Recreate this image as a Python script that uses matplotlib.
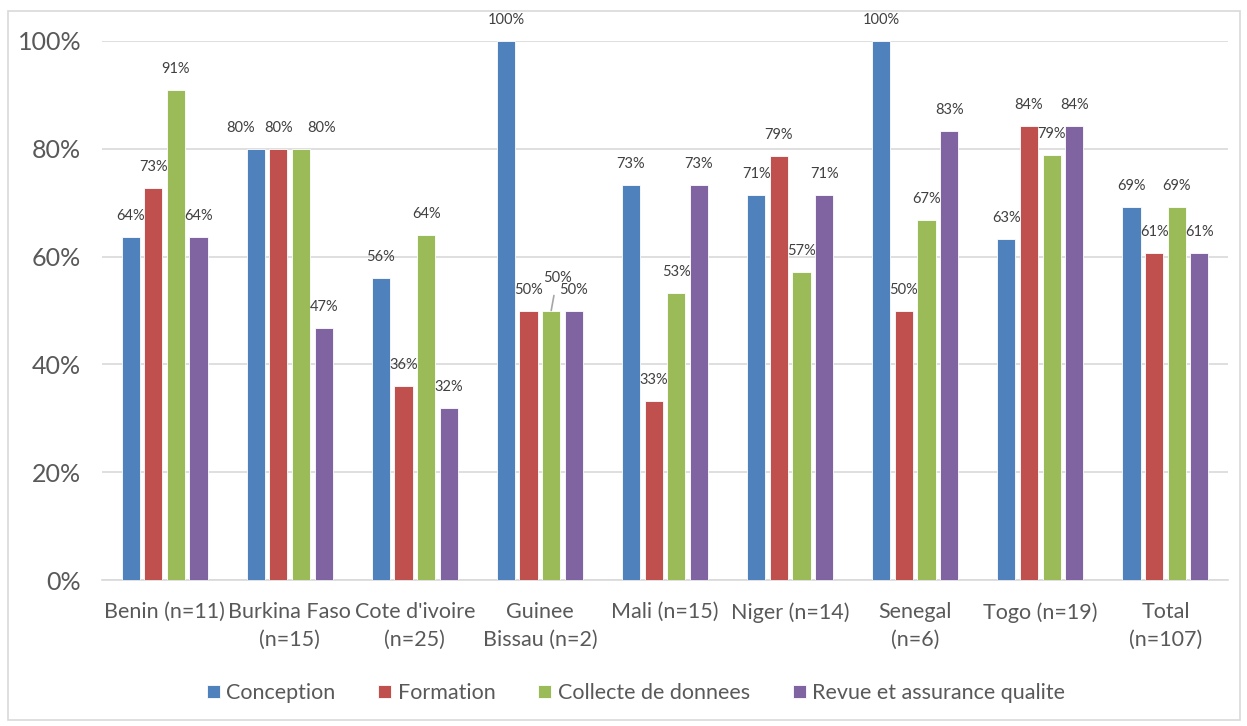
import matplotlib
matplotlib.use("Agg")
import matplotlib.pyplot as plt
import numpy as np
from matplotlib.patches import Rectangle

plt.rcParams['font.family'] = ['Lato', 'DejaVu Sans']

categories = ["Benin (n=11)", "Burkina Faso\n(n=15)", "Cote d'ivoire\n(n=25)", "Guinee\nBissau (n=2)",
              "Mali (n=15)", "Niger (n=14)", "Senegal\n(n=6)", "Togo (n=19)", "Total\n(n=107)"]
series_names = ["Conception", "Formation", "Collecte de donnees", "Revue et assurance qualite"]
conception = [63.6, 80.0, 56.0, 100.0, 73.3, 71.4, 100.0, 63.2, 69.2]
formation = [72.7, 80.0, 36.0, 50.0, 33.3, 78.6, 50.0, 84.2, 60.7]
collecte = [90.9, 80.0, 64.0, 50.0, 53.3, 57.1, 66.7, 78.9, 69.2]
revue = [63.6, 46.7, 32.0, 50.0, 73.3, 71.4, 83.3, 84.2, 60.7]
colors = ["#4F81BD", "#C0504D", "#9BBB59", "#8064A2"]

data = [conception, formation, collecte, revue]

# label nudges in pixels (dx, dy up) for a few crowded labels
nudges = {(1, 0): (-15, 0), (1, 2): (21, 0), (3, 2): (6, 12)}

fig = plt.figure(figsize=(12.47, 7.26), dpi=100)
fig.patches.append(Rectangle((8/1247, 1 - 720/726), (1240-8)/1247, (720-11)/726,
                             transform=fig.transFigure, fill=False, edgecolor="#D9D9D9", lw=1.2))
ax = fig.add_axes([102/1247, 1 - 580/726, (1228-102)/1247, (580-41)/726])

x = np.arange(len(categories))
w = 0.145
step = 0.181
px = 72 / 100.0
for i, (vals, col, name) in enumerate(zip(data, colors, series_names)):
    pos = x + (i - 1.5) * step
    ax.bar(pos, vals, width=w, color=col, edgecolor="white", linewidth=0.6, label=name, zorder=3)
    for j, (p, v) in enumerate(zip(pos, vals)):
        dx, dy = nudges.get((j, i), (0, 0))
        kw = {}
        if dy > 0:
            kw["arrowprops"] = dict(arrowstyle="-", color="#A6A6A6", lw=1.2, shrinkA=6, shrinkB=0)
        ax.annotate(f"{round(v):.0f}%", (p, v), xytext=(dx * px, (21 + dy) * px), textcoords="offset points",
                    ha="center", va="center", fontsize=10.5, color="#404040", **kw)

ax.set_xlim(-0.5, len(categories) - 0.5)
ax.set_ylim(0, 100)
ax.set_yticks([0, 20, 40, 60, 80, 100])
ax.set_yticklabels(["0%", "20%", "40%", "60%", "80%", "100%"])
ax.set_xticks(x)
ax.set_xticklabels(categories, linespacing=1.45)
ax.tick_params(axis="both", length=0, colors="#595959")
ax.tick_params(axis="y", pad=15, labelsize=18)
ax.tick_params(axis="x", pad=16, labelsize=15.5)
ax.yaxis.grid(True, color="#D9D9D9", lw=1.2, zorder=0)
for s in ["top", "right", "left"]:
    ax.spines[s].set_visible(False)
ax.spines["bottom"].set_color("#D9D9D9")
ax.spines["bottom"].set_linewidth(1.2)

leg = fig.legend(loc="center", bbox_to_anchor=(636/1247, 1 - 693/726), ncol=4, frameon=False,
                 fontsize=15.5, handlelength=0.6, handleheight=0.6, columnspacing=2.0, handletextpad=0.3)
for t in leg.get_texts():
    t.set_color("#595959")

fig.savefig("out.png", dpi=100)
